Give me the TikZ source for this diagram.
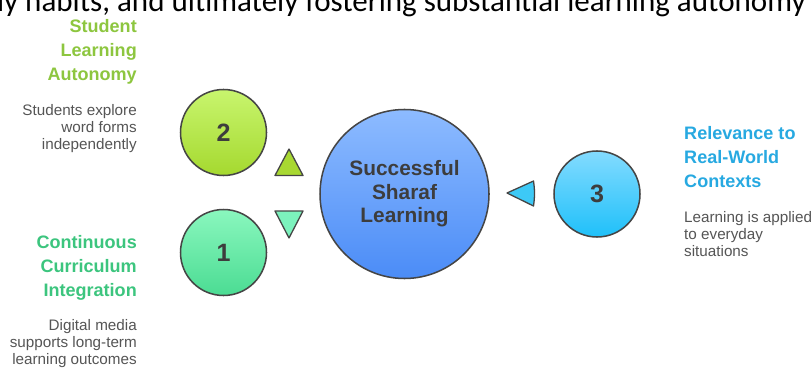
\documentclass[tikz,border=0pt]{standalone}
\usepackage{fontspec}
\setmainfont{Liberation Sans}
\newfontfamily\topfont{Carlito}
\definecolor{lime}{HTML}{8DC63F}
\definecolor{mint}{HTML}{3CC57E}
\definecolor{sky}{HTML}{27A9E1}
\definecolor{edge}{HTML}{454545}
\definecolor{numtext}{HTML}{3D3D3D}
\definecolor{desc}{HTML}{555555}
\definecolor{twotop}{HTML}{C8F56E}
\definecolor{twobot}{HTML}{A5D92F}
\definecolor{onetop}{HTML}{8AF7BE}
\definecolor{onebot}{HTML}{4BDC93}
\definecolor{threetop}{HTML}{83DBFF}
\definecolor{threebot}{HTML}{1FC0F9}
\definecolor{hubtop}{HTML}{8DBBFF}
\definecolor{hubbot}{HTML}{4B8CF7}
\definecolor{uptip}{HTML}{A8D832}
\definecolor{downtip}{HTML}{7CF2BD}
\definecolor{lefttip}{HTML}{3DC9F6}
\begin{document}
\begin{tikzpicture}[x=0.3mm,y=-0.3mm,
    ball/.style={circle,draw=edge,line width=1.3pt,minimum size=25.8mm,inner sep=0pt,
        font=\fontsize{21.4}{24}\selectfont\bfseries,text=numtext},
    head/.style={inner sep=0pt,align=#1,font=\fontsize{15.4}{20.4}\selectfont\bfseries},
    note/.style={inner sep=0pt,align=#1,text=desc,font=\fontsize{13}{14.7}\selectfont},
    tip/.style={draw=edge,line width=1.1pt,line join=round}]
    \useasboundingbox (0,0) rectangle (811,368);
    \clip (0,0) rectangle (811,368);
    \fill[white] (0,0) rectangle (811,368);

    % cut-off line of the page above
    \node[inner sep=0pt,anchor=base east,font=\topfont\fontsize{26.5}{30}\selectfont] (topline) at (806,12)
        {ly habits, and ultimately fostering substantial learning autonomy};

    % circles
    \node[ball,top color=twotop,bottom color=twobot] (two) at (223.5,132.5) {2};
    \node[ball,top color=onetop,bottom color=onebot] (one) at (223.5,252.5) {1};
    \node[ball,top color=threetop,bottom color=threebot] (three) at (597,194) {3};
    \node[ball,minimum size=50.7mm,top color=hubtop,bottom color=hubbot,
        font=\fontsize{17.8}{20}\selectfont\bfseries,align=center] (hub) at (404.5,194)
        {Successful\\Sharaf\\Learning};

    % pointers
    \filldraw[tip,fill=uptip] (289,149) -- (303,175.5) -- (275,175.5) -- cycle;
    \filldraw[tip,fill=downtip] (275,211) -- (303,211) -- (289,238) -- cycle;
    \filldraw[tip,fill=lefttip] (507,193) -- (533.5,181) to[bend left=8] (533.5,206) -- cycle;

    % labels (base = last line)
    \node[head=right,text=lime,anchor=base east] (autonomyhead) at (137,80.7) {Student\\Learning\\Autonomy};
    \node[note=right,anchor=base east] (autonomynote) at (137,150) {Students explore\\word forms\\independently};
    \node[head=right,text=mint,anchor=base east] (curriculumhead) at (137,296.7) {Continuous\\Curriculum\\Integration};
    \node[note=right,anchor=base east] (curriculumnote) at (137,364.5) {Digital media\\supports long-term\\learning outcomes};
    \node[head=left,text=sky,anchor=base west] (relevancehead) at (684,187.7) {Relevance to\\Real-World\\Contexts};
    \node[note=left,anchor=base west] (relevancenote) at (684,256.7) {Learning is applied\\to everyday\\situations};
\end{tikzpicture}
\end{document}
